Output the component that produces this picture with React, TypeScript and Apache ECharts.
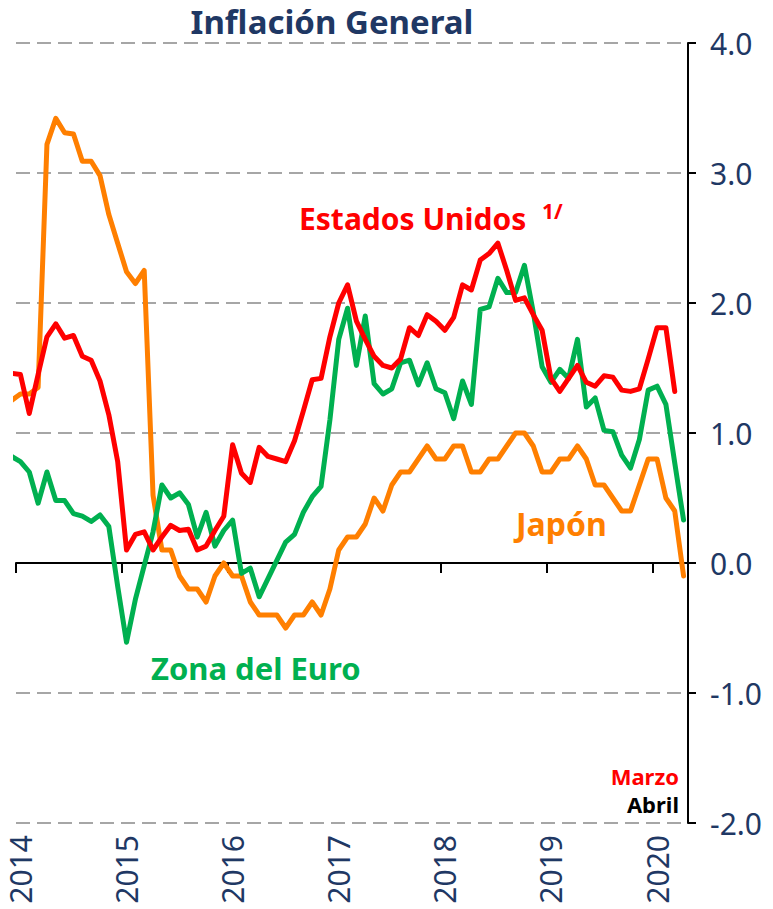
import React, { useEffect, useRef } from 'react';
import * as echarts from 'echarts';

// Tick labels
const yearTicks = ['2014', '2015', '2016', '2017', '2018', '2019', '2020'];
const monthsPerYear = 12;
const totalMonths = 76; // Jan 2014 .. Apr 2020
const yMin = -2;
const yMax = 4;

// Monthly values, Dec 2013 .. Apr 2020 (77 values; Dec 2013 is clipped at the left edge)
const japon = [
  1.25,
  1.3, 1.3, 1.35, 3.22, 3.42, 3.31, 3.3, 3.09, 3.09, 2.98, 2.68, 2.46,
  2.24, 2.15, 2.25, 0.52, 0.1, 0.1, -0.1, -0.2, -0.2, -0.3, -0.1, 0.0,
  -0.1, -0.1, -0.3, -0.4, -0.4, -0.4, -0.5, -0.4, -0.4, -0.3, -0.4, -0.2,
  0.1, 0.2, 0.2, 0.3, 0.5, 0.4, 0.6, 0.7, 0.7, 0.8, 0.9, 0.8,
  0.8, 0.9, 0.9, 0.7, 0.7, 0.8, 0.8, 0.9, 1.0, 1.0, 0.9, 0.7,
  0.7, 0.8, 0.8, 0.9, 0.8, 0.6, 0.6, 0.5, 0.4, 0.4, 0.6, 0.8,
  0.8, 0.5, 0.4, -0.1,
];

const zonaEuro = [
  0.82,
  0.78, 0.7, 0.46, 0.7, 0.48, 0.48, 0.38, 0.36, 0.32, 0.37, 0.28, -0.18,
  -0.61, -0.28, -0.02, 0.24, 0.6, 0.5, 0.54, 0.45, 0.2, 0.39, 0.13, 0.25,
  0.33, -0.08, -0.04, -0.26, -0.12, 0.02, 0.16, 0.22, 0.39, 0.51, 0.59, 1.1,
  1.72, 1.96, 1.52, 1.9, 1.38, 1.3, 1.34, 1.54, 1.56, 1.37, 1.54, 1.34,
  1.31, 1.11, 1.4, 1.22, 1.95, 1.97, 2.19, 2.08, 2.08, 2.29, 1.93, 1.51,
  1.39, 1.49, 1.42, 1.72, 1.2, 1.27, 1.02, 1.01, 0.83, 0.73, 0.95, 1.33,
  1.36, 1.22, 0.77, 0.33,
];

const estadosUnidos = [
  1.46,
  1.45, 1.15, 1.45, 1.74, 1.84, 1.73, 1.75, 1.59, 1.56, 1.4, 1.14, 0.78,
  0.1, 0.22, 0.24, 0.1, 0.2, 0.29, 0.25, 0.26, 0.1, 0.13, 0.25, 0.36,
  0.91, 0.69, 0.62, 0.89, 0.82, 0.8, 0.78, 0.94, 1.17, 1.41, 1.42, 1.74,
  2.0, 2.14, 1.86, 1.72, 1.59, 1.52, 1.5, 1.57, 1.81, 1.75, 1.91, 1.86,
  1.79, 1.89, 2.14, 2.1, 2.33, 2.38, 2.46, 2.25, 2.02, 2.04, 1.91, 1.79,
  1.42, 1.32, 1.42, 1.52, 1.39, 1.36, 1.44, 1.43, 1.33, 1.32, 1.34, 1.57,
  1.81, 1.81, 1.32, null,
];

const RED = '#FF0000';
const ORANGE = '#FF7F00';
const GREEN = '#00B050';
const NAVY = '#1F3864';
const FONT = '"Noto Sans", "Open Sans", sans-serif';

// month k of array (k=0 -> Dec 2013) is centred in its month band
const toPoints = (vals: (number | null)[]) => vals.map((v, k) => [k - 0.5, v]);
// year labels sit at the centre of each January band
const yearLabelValues = yearTicks.map((_, i) => i * monthsPerYear + 0.5);

export default function App() {
  const ref = useRef<HTMLDivElement>(null);

  useEffect(() => {
    if (!ref.current) return;
    const chart = echarts.init(ref.current, undefined, { renderer: 'svg' });
    const lineSeries = (name: string, vals: (number | null)[], color: string) => ({
      name,
      type: 'line',
      data: toPoints(vals),
      symbol: 'none',
      connectNulls: false,
      clip: true,
      lineStyle: { color, width: 5, cap: 'round', join: 'round' },
      itemStyle: { color },
    });
    const txt = (text: string, x: number, y: number, fill: string, size: number, align: string) => ({
      type: 'text',
      x,
      y,
      z: 10,
      style: {
        text,
        fill,
        font: `bold ${size}px ${FONT}`,
        align,
        verticalAlign: 'middle',
        textAlign: align,
        textVerticalAlign: 'middle',
      },
    });
    const option: any = {
      animation: false,
      backgroundColor: '#ffffff',
      grid: { left: 16, right: 85, top: 43, bottom: 86, containLabel: false },
      xAxis: [
        {
          type: 'value',
          min: 0,
          max: totalMonths,
          interval: monthsPerYear,
          position: 'bottom',
          axisLine: { show: false, onZero: false },
          axisTick: { show: false },
          splitLine: { show: false },
          axisLabel: {
            rotate: 90,
            margin: 12,
            color: NAVY,
            fontFamily: FONT,
            fontSize: 30,
            padding: [18, 0, 0, 0],
            customValues: yearLabelValues,
            formatter: (v: number) => {
              const idx = Math.floor(v / monthsPerYear);
              return idx >= 0 && idx < yearTicks.length ? yearTicks[idx] : '';
            },
          },
        },
        {
          type: 'value',
          min: 0,
          max: totalMonths,
          interval: monthsPerYear,
          position: 'bottom',
          axisLine: { show: true, onZero: true, lineStyle: { color: '#000', width: 2 } },
          axisTick: { show: true, length: 10, lineStyle: { color: '#000', width: 2 } },
          axisLabel: { show: false },
          splitLine: { show: false },
        },
      ],
      yAxis: {
        type: 'value',
        position: 'right',
        min: yMin,
        max: yMax,
        interval: 1,
        axisLine: { show: true, onZero: false, lineStyle: { color: '#000', width: 2 } },
        axisTick: { show: true, length: 8, lineStyle: { color: '#000', width: 2 } },
        axisLabel: {
          margin: 22,
          color: NAVY,
          fontFamily: FONT,
          fontSize: 30,
          formatter: (v: number) => v.toFixed(1),
        },
        splitLine: { show: true, lineStyle: { color: '#A6A6A6', width: 2, type: [14, 7] } },
      },
      series: [
        lineSeries('Japón', japon, ORANGE),
        lineSeries('Zona del Euro', zonaEuro, GREEN),
        lineSeries('Estados Unidos', estadosUnidos, RED),
      ],
      graphic: [
        txt('Inflación General', 332, 21, NAVY, 33, 'center'),
        txt('Estados Unidos', 299, 218, RED, 30, 'left'),
        txt('1/', 542, 211, RED, 21, 'left'),
        txt('Japón', 516, 523, ORANGE, 32, 'left'),
        txt('Zona del Euro', 151, 668, GREEN, 31, 'left'),
        txt('Marzo', 679, 776, RED, 22, 'right'),
        txt('Abril', 679, 804, '#000000', 22, 'right'),
      ],
    };
    chart.setOption(option);
    return () => chart.dispose();
  }, []);

  return (
    <div
      ref={ref}
      style={{ position: 'absolute', left: 0, top: 0, width: 773, height: 909, background: '#fff' }}
    />
  );
}
